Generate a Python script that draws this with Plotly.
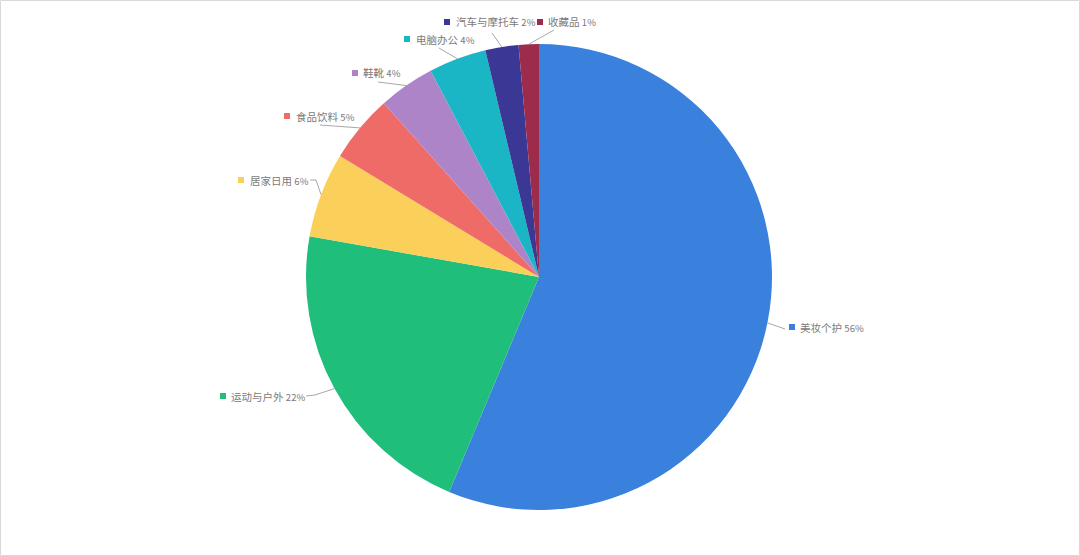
import math
import plotly.graph_objects as go

categories = ["美妆个护", "运动与户外", "居家日用", "食品饮料", "鞋靴", "电脑办公", "汽车与摩托车", "收藏品"]
values = [56.3, 21.5, 5.9, 4.7, 3.9, 4.0, 2.3, 1.4]
colors = ["#3A80DD", "#20BE7B", "#FAD05A", "#EE6B68", "#AE84C9", "#1BB6C5", "#3A3795", "#9D2B4B"]

W, H = 1080, 556
CX, CY, R = 539, 277, 233

# label layout (pixels): square centre, text left, and leader line points (outer end first)
label_pos = [
    dict(sq=(792, 327), tx=798, line=[(785, 329)]),
    dict(sq=(223, 396), tx=229, line=[(306, 396), (315, 395)]),
    dict(sq=(241, 180), tx=248, line=[(310, 180), (316, 180)]),
    dict(sq=(287, 116), tx=294, line=[(320, 125)]),
    dict(sq=(355, 73), tx=361, line=[(378, 82)]),
    dict(sq=(407, 39), tx=414, line=[(439, 48)]),
    dict(sq=(447, 22), tx=454, line=[(492, 33)]),
    dict(sq=(540, 22), tx=546, line=[(554, 30)]),
]

def px(x):
    return x / W

def py(y):
    return 1 - y / H

fig = go.Figure(go.Pie(
    labels=categories,
    values=values,
    sort=False,
    direction="clockwise",
    rotation=0,
    marker=dict(colors=colors, line=dict(width=0)),
    textinfo="none",
    hoverinfo="label+percent",
    domain=dict(x=[px(CX - R), px(CX + R)], y=[py(CY + R), py(CY - R)]),
    showlegend=False,
))

total = sum(values)
shapes = []
annotations = []
cum = 0.0
for cat, v, col, lp in zip(categories, values, colors, label_pos):
    mid = (cum + v / 2) / total * 2 * math.pi
    cum += v
    ex = CX + R * math.sin(mid)
    ey = CY - R * math.cos(mid)
    pts = [(ex, ey)] + list(reversed(lp["line"]))
    path = "M " + " L ".join(f"{px(x)},{py(y)}" for x, y in pts)
    shapes.append(dict(type="path", xref="paper", yref="paper", path=path,
                       line=dict(color="#A8A8A8", width=1)))
for cat, v, col, lp in zip(categories, values, colors, label_pos):
    sx, sy = lp["sq"]
    shapes.append(dict(type="rect", xref="paper", yref="paper",
                       x0=px(sx - 3), x1=px(sx + 3), y0=py(sy + 3), y1=py(sy - 3),
                       fillcolor=col, line=dict(width=0)))
    pct = round(v / total * 100)
    annotations.append(dict(
        x=px(lp["tx"]), y=py(sy), xref="paper", yref="paper",
        xanchor="left", yanchor="middle", showarrow=False,
        text=f"{cat} <span style='font-size:9.5px'>{pct}%</span>",
        font=dict(family="Noto Sans CJK SC, sans-serif", size=10.5, color="#7A7A7A"),
    ))

shapes.append(dict(type="rect", xref="paper", yref="paper",
                   x0=0.5 / W, x1=1 - 0.5 / W, y0=0.5 / H, y1=1 - 0.5 / H,
                   line=dict(color="#D9D9D9", width=1)))

fig.update_layout(
    width=W, height=H,
    margin=dict(l=0, r=0, t=0, b=0),
    paper_bgcolor="white",
    plot_bgcolor="white",
    shapes=shapes,
    annotations=annotations,
)

fig.write_html("out.html", config={"displayModeBar": False},
               post_script="document.body.style.margin='0px';document.body.style.overflow='hidden';")
